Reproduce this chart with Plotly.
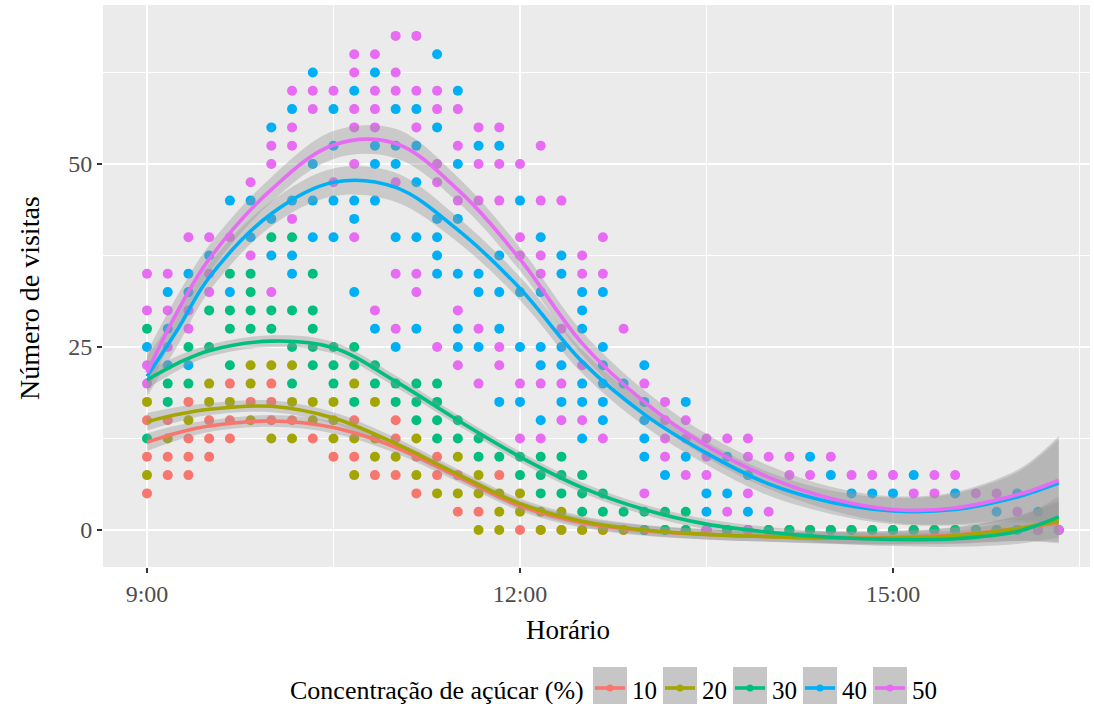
import plotly.graph_objects as go

# ---------------- data ----------------
times = ["9:00", "9:10", "9:20", "9:30", "9:40", "9:50", "10:00", "10:10", "10:20", "10:30",
         "10:40", "10:50", "11:00", "11:10", "11:20", "11:30", "11:40", "11:50", "12:00", "12:10",
         "12:20", "12:30", "12:40", "12:50", "13:00", "13:10", "13:20", "13:30", "13:40", "13:50",
         "14:00", "14:10", "14:20", "14:30", "14:40", "14:50", "15:00", "15:10", "15:20", "15:30",
         "15:40", "15:50", "16:00", "16:10", "16:20"]

visits_10 = [[5, 10, 15], [7.5, 10, 15], [7.5, 10, 12.5, 17.5], [10, 12.5, 15], [12.5, 15, 20],
             [17.5], [15, 17.5, 20], [15], [12.5], [10], [10, 15], [7.5], [7.5, 12.5, 15], [5, 10],
             [7.5, 10], [2.5, 7.5], [2.5], [7.5], [0], [0], [0], [0], [0], [0], [0], [0], [0], [0],
             [0], [0], [0], [0], [0], [0], [0], [0], [0], [0], [0], [0], [0], [0], [0], [0], [0]]

visits_20 = [[7.5, 17.5], [12.5], [15], [17.5, 20], [17.5], [15, 20, 22.5], [12.5, 22.5],
             [12.5, 17.5, 22.5], [15, 17.5], [12.5, 15, 17.5], [7.5, 12.5, 20], [10, 12.5, 17.5],
             [10], [7.5, 12.5], [5], [5, 10], [0, 5, 7.5], [0, 2.5, 5], [2.5, 5], [0, 2.5], [0, 2.5],
             [0], [0], [0], [0], [0], [0], [0], [0], [0], [0], [0], [0], [0], [0], [0], [0], [0],
             [0], [0], [0], [0], [0], [0], [0]]

visits_30 = [[12.5, 27.5], [17.5, 20], [20, 25], [25, 30], [22.5, 27.5, 30, 35], [27.5, 30, 32.5, 35],
             [27.5, 30, 40], [20, 25, 30, 40], [22.5, 25, 27.5, 30, 35], [20, 22.5, 25],
             [17.5, 22.5, 25], [20, 22.5], [17.5, 20], [15, 17.5, 20], [12.5, 15, 17.5, 20],
             [12.5, 15], [10, 12.5], [10], [7.5, 10], [5, 7.5, 10], [5, 7.5, 10], [2.5, 5, 7.5],
             [2.5, 5], [2.5], [0, 2.5], [0, 2.5], [0, 2.5], [0], [0], [0], [0], [0], [0], [0], [0],
             [0], [0], [0], [0], [0], [0], [0], [0], [0], [0]]

visits_40 = [[25], [22.5, 27.5, 32.5], [22.5, 32.5, 35], [37.5], [32.5, 45], [40, 45],
             [37.5, 42.5, 55], [35, 37.5, 45, 57.5], [40, 45, 50, 62.5], [40, 45, 52.5, 57.5],
             [32.5, 42.5, 45, 60], [27.5, 45, 50, 52.5, 62.5], [25, 40, 50, 52.5, 57.5],
             [27.5, 40, 47.5, 52.5, 57.5], [35, 37.5, 40, 42.5, 55, 65], [25, 27.5, 35, 42.5, 50, 60],
             [25, 32.5, 35, 52.5], [17.5, 27.5, 32.5, 37.5, 52.5], [17.5, 25, 32.5, 45],
             [15, 22.5, 25, 32.5, 40], [17.5, 22.5, 25, 35, 37.5], [12.5, 17.5, 20, 27.5, 30, 32.5],
             [15, 17.5, 20, 22.5, 25, 32.5], [20], [10, 12.5, 15, 17.5, 22.5], [7.5], [10, 17.5],
             [2.5, 5], [5, 10], [2.5, 7.5], [], [], [10], [7.5], [5], [5], [5], [7.5], [], [5], [],
             [2.5], [0, 5], [2.5], []]

visits_50 = [[20, 22.5, 30, 35], [25, 30, 35], [27.5, 30, 40], [32.5, 35, 40], [40], [37.5, 47.5],
             [32.5, 50, 52.5], [42.5, 52.5, 55, 60], [57.5, 60], [47.5, 60],
             [40, 50, 55, 57.5, 62.5, 65], [30, 55, 57.5, 60, 65], [27.5, 35, 47.5, 60, 62.5, 67.5],
             [32.5, 35, 55, 60, 67.5], [25, 47.5, 50, 57.5, 60], [22.5, 30, 45, 52.5, 57.5],
             [20, 27.5, 45, 50, 55], [22.5, 25, 45, 50, 55], [12.5, 20, 37.5, 40, 50],
             [12.5, 20, 35, 37.5, 45, 52.5], [15, 20, 27.5, 45], [15, 22.5, 35, 37.5], [12.5, 35, 40],
             [27.5], [5, 20], [10, 12.5, 15, 17.5], [7.5, 12.5, 15], [0, 7.5, 10, 12.5], [2.5, 12.5],
             [0, 5, 10, 12.5], [2.5, 10], [7.5, 10], [7.5], [10], [7.5], [7.5], [7.5], [5], [5, 7.5],
             [7.5], [5], [5], [2.5], [0], [0]]

# smoothed curves (loess) and half-width of their bands
smooth_hours = [9.0, 9.25, 9.5, 10.0, 10.5, 11.0, 11.5, 12.0, 12.5, 13.0, 13.5, 14.0, 14.5, 15.0,
                15.5, 16.0, 16.167, 16.333]
smooth_10 = [12.0, 13.3, 14.2, 14.9, 14.0, 11.3, 7.3, 3.3, 1.0, -0.1, -0.6, -0.9, -1.0, -1.0, -0.7, 0.2, 0.6, 1.0]
smooth_20 = [14.8, 15.8, 16.5, 16.9, 15.3, 11.8, 7.6, 3.6, 1.2, 0.0, -0.6, -0.9, -1.1, -1.1, -0.8, 0.2, 0.7, 1.2]
smooth_30 = [20.5, 22.8, 24.5, 25.8, 24.9, 20.3, 15.0, 10.0, 5.8, 2.8, 0.8, -0.3, -1.0, -1.3, -1.2, -0.2, 0.7, 1.8]
smooth_40 = [21.0, 27.5, 34.5, 43.2, 47.5, 46.8, 41.0, 33.0, 23.0, 15.8, 10.5, 6.3, 3.8, 2.6, 2.8, 4.5, 5.4, 6.4]
smooth_50 = [21.5, 30.0, 37.0, 46.5, 52.6, 52.8, 46.5, 37.0, 25.5, 17.5, 11.5, 7.2, 4.3, 2.8, 3.0, 4.8, 5.7, 6.8]
band_high = [2.8, 2.2, 1.9, 1.7, 1.9, 2.0, 1.7, 1.6, 1.6, 1.6, 1.6, 1.6, 1.6, 1.8, 2.2, 3.4, 4.5, 6.0]
band_low = [1.2, 1.0, 0.8, 0.8, 0.8, 0.8, 0.7, 0.7, 0.7, 0.7, 0.7, 0.7, 0.8, 0.9, 1.1, 1.7, 2.2, 2.8]

concentrations = ["10", "20", "30", "40", "50"]
colors = ["#F8766D", "#A3A500", "#00BF7D", "#00B0F6", "#E76BF3"]
x_ticks = ["9:00", "12:00", "15:00"]

# ---------------- helpers ----------------
def to_hours(t):
    h, m = t.split(":")
    return int(h) + int(m) / 60.0

hours = [to_hours(t) for t in times]
points = [visits_10, visits_20, visits_30, visits_40, visits_50]
smooths = [smooth_10, smooth_20, smooth_30, smooth_40, smooth_50]
bands = [band_low, band_low, band_low, band_high, band_high]

W, H = 1094, 704
PL, PR, PT, PB = 103, 1090, 5, 567
XR = [9 - (147 - PL) / 124.33, 9 + (PR - 147) / 124.33]
YR = [-(PB - 530) / 7.32, (530 - PT) / 7.32]

def px(x):
    return (x - PL) / (PR - PL)

def py(y):
    return (PB - y) / (PB - PT)

FONT = "Liberation Serif"
fig = go.Figure()

# points
for vals, col in zip(points, colors):
    xs, ys = [], []
    for h, vs in zip(hours, vals):
        for v in vs:
            xs.append(h)
            ys.append(v)
    fig.add_trace(go.Scatter(x=xs, y=ys, mode="markers",
                             marker=dict(color=col, size=10, line=dict(width=0)),
                             showlegend=False, hoverinfo="skip"))

# confidence bands
for sm, bd in zip(smooths, bands):
    up = [s + b for s, b in zip(sm, bd)]
    lo = [s - b for s, b in zip(sm, bd)]
    fig.add_trace(go.Scatter(x=smooth_hours, y=lo, mode="lines",
                             line=dict(width=0, shape="spline", smoothing=1.0),
                             showlegend=False, hoverinfo="skip"))
    fig.add_trace(go.Scatter(x=smooth_hours, y=up, mode="lines", fill="tonexty",
                             fillcolor="rgba(153,153,153,0.4)",
                             line=dict(width=0, shape="spline", smoothing=1.0),
                             showlegend=False, hoverinfo="skip"))

# smooth lines
for sm, col in zip(smooths, colors):
    fig.add_trace(go.Scatter(x=smooth_hours, y=sm, mode="lines",
                             line=dict(color=col, width=3.6, shape="spline", smoothing=1.0),
                             showlegend=False, hoverinfo="skip"))

# manual legend (ggplot style keys)
shapes = []
annotations = []
annotations.append(dict(x=px(586), y=py(690), xref="paper", yref="paper", xanchor="right",
                        yanchor="middle", showarrow=False, text="Concentração de açúcar (%)",
                        font=dict(family=FONT, size=26, color="black")))
key_x = [593, 663, 733, 803, 873]
for kx, lab, col in zip(key_x, concentrations, colors):
    shapes.append(dict(type="rect", xref="paper", yref="paper", x0=px(kx), x1=px(kx + 34),
                       y0=py(710), y1=py(667), fillcolor="#C6C6C6", line=dict(width=0), layer="above"))
    shapes.append(dict(type="line", xref="paper", yref="paper", x0=px(kx + 2), x1=px(kx + 32),
                       y0=py(688), y1=py(688), line=dict(color=col, width=3.6), layer="above"))
    shapes.append(dict(type="circle", xref="paper", yref="paper", x0=px(kx + 13.5), x1=px(kx + 20.5),
                       y0=py(691.5), y1=py(684.5), fillcolor=col, line=dict(width=0), layer="above"))
    annotations.append(dict(x=px(kx + 37), y=py(690), xref="paper", yref="paper", xanchor="left",
                            yanchor="middle", showarrow=False, text=lab,
                            font=dict(family=FONT, size=25, color="black")))

# axis titles
annotations.append(dict(x=px(568), y=py(630), xref="paper", yref="paper", showarrow=False,
                        xanchor="center", yanchor="middle",
                        text="Horário", font=dict(family=FONT, size=27, color="black")))
annotations.append(dict(x=px(30), y=py(298), xref="paper", yref="paper", showarrow=False,
                        xanchor="center", yanchor="middle",
                        text="Número de visitas", textangle=-90,
                        font=dict(family=FONT, size=28, color="black")))

fig.update_layout(
    width=W, height=H,
    margin=dict(l=PL, r=W - PR, t=PT, b=H - PB),
    paper_bgcolor="white", plot_bgcolor="#EBEBEB",
    showlegend=False,
    shapes=shapes, annotations=annotations,
    font=dict(family=FONT),
)
fig.update_xaxes(range=XR, tickvals=[9, 12, 15], ticktext=x_ticks,
                 showgrid=True, gridcolor="white", gridwidth=2, zeroline=False,
                 ticks="outside", ticklen=5, tickwidth=1.5, tickcolor="#333333",
                 tickfont=dict(family=FONT, size=24, color="#4D4D4D"),
                 minor=dict(tickvals=[10.5, 13.5, 16.5], showgrid=True, gridcolor="white",
                            gridwidth=1, ticks=""),
                 showline=False)
fig.update_yaxes(range=YR, tickvals=[0, 25, 50], ticktext=["0", "25", "50"],
                 showgrid=True, gridcolor="white", gridwidth=2, zeroline=False,
                 ticks="outside", ticklen=5, tickwidth=1.5, tickcolor="#333333",
                 tickfont=dict(family=FONT, size=24, color="#4D4D4D"),
                 minor=dict(tickvals=[12.5, 37.5, 62.5], showgrid=True, gridcolor="white",
                            gridwidth=1, ticks=""),
                 showline=False)

fig.write_html("out.html")
